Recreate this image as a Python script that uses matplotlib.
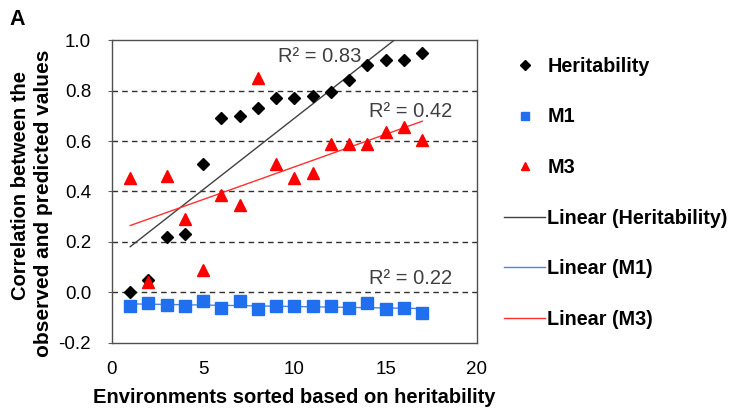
import numpy as np
import matplotlib.pyplot as plt

plt.rcParams['font.family'] = ['Liberation Sans', 'DejaVu Sans']

env = list(range(1, 18))
heritability = [0.00, 0.05, 0.22, 0.23, 0.51, 0.69, 0.70, 0.73, 0.77, 0.77,
                0.78, 0.795, 0.84, 0.90, 0.92, 0.92, 0.95]
m1 = [-0.055, -0.042, -0.05, -0.055, -0.035, -0.06, -0.035, -0.065, -0.055,
      -0.055, -0.055, -0.055, -0.06, -0.04, -0.065, -0.06, -0.082]
m3 = [0.455, 0.04, 0.46, 0.29, 0.09, 0.385, 0.345, 0.85, 0.51, 0.455,
      0.475, 0.59, 0.59, 0.59, 0.635, 0.655, 0.605]
r2_labels = ["R² = 0.83", "R² = 0.22", "R² = 0.42"]

blue = '#1f6fef'
red = '#ff0000'

fig = plt.figure(figsize=(7.29, 4.12), dpi=100)
W, H = 729, 412
ax = fig.add_axes([0.1536, 0.1675, 0.5007, 0.7354])

x = np.array(env, dtype=float)
handles = []
h1, = ax.plot(x, heritability, 'D', color='black', markersize=6.5, linestyle='none', label='Heritability', zorder=4)
h2, = ax.plot(x, m1, 's', color=blue, markersize=8, linestyle='none', label='M1', zorder=4)
h3, = ax.plot(x, m3, '^', color=red, markersize=8.5, linestyle='none', label='M3', zorder=4)
handles += [h1, h2, h3]

line_colors = ['#404040', '#4a86e8', '#ff3030']
names = ['Linear (Heritability)', 'Linear (M1)', 'Linear (M3)']
for series, c, n in zip([heritability, m1, m3], line_colors, names):
    k, b = np.polyfit(x, series, 1)
    h, = ax.plot([x[0], x[-1]], [k * x[0] + b, k * x[-1] + b], color=c, lw=1.0, label=n, zorder=3)
    handles.append(h)

# R² annotations
ax.text(9.1, 0.935, r2_labels[0], fontsize=14.5, color='#404040', va='center', ha='left')
ax.text(14.1, 0.055, r2_labels[1], fontsize=14.5, color='#404040', va='center', ha='left')
ax.text(14.1, 0.715, r2_labels[2], fontsize=14.5, color='#404040', va='center', ha='left')

ax.set_xlim(0, 20)
ax.set_ylim(-0.2, 1.0)
ax.set_xticks([0, 5, 10, 15, 20])
ax.set_yticks(np.arange(-0.2, 1.01, 0.2))
ax.set_yticklabels([f"{v:.1f}" for v in np.arange(-0.2, 1.01, 0.2)])
for yv in [0.0, 0.2, 0.4, 0.6, 0.8]:
    ax.axhline(yv, color='#303030', ls=(0, (4, 3)), lw=1.0, zorder=1)
ax.tick_params(axis='both', labelsize=13.5, length=3, color='#606060')
ax.tick_params(axis='y', pad=12)
ax.tick_params(axis='x', length=0, pad=13)
for s in ax.spines.values():
    s.set_color('#505050')
    s.set_linewidth(1.0)

ax.set_xlabel('Environments sorted based on heritability', fontsize=14.5, fontweight='bold', labelpad=7)
# two-line y label, placed line by line
fig.text(21 / W, 1 - 185 / H, 'Correlation between the', rotation=90, fontsize=14.5,
         fontweight='bold', ha='center', va='center')
fig.text(44 / W, 1 - 203 / H, 'observed and predicted values', rotation=90, fontsize=15,
         fontweight='bold', ha='center', va='center')

fig.text(0.013, 0.953, 'A', fontsize=15.5, fontweight='bold', va='center')

fig.legend(handles=handles, loc='upper left', bbox_to_anchor=(0.667, 0.905),
           frameon=False, prop={'size': 14.2, 'weight': 'bold'},
           labelspacing=1.6, handlelength=2.1, handletextpad=0.1, markerscale=0.75)

fig.savefig('out.png', dpi=100)
